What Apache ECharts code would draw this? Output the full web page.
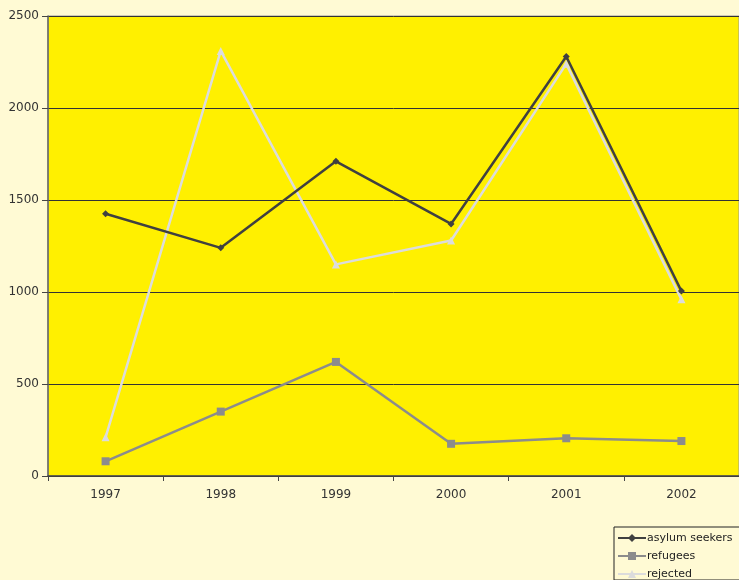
<!DOCTYPE html>
<html>
<head>
<meta charset="utf-8">
<script src="https://cdn.jsdelivr.net/npm/echarts@6/dist/echarts.min.js"></script>
<style>
html,body{margin:0;padding:0;background:#FFFAD4;}
#c{width:739px;height:580px;}
</style>
</head>
<body>
<div id="c"></div>
<script>
var categories = ['1997','1998','1999','2000','2001','2002'];
var asylumSeekers = [1425, 1240, 1710, 1370, 2280, 1005];
var refugees = [80, 350, 620, 175, 205, 190];
var rejected = [210, 2310, 1150, 1280, 2240, 960];
var yTicks = [0, 500, 1000, 1500, 2000, 2500];

var chart = echarts.init(document.getElementById('c'));
var font = 'DejaVu Sans, Verdana, sans-serif';
chart.setOption({
  backgroundColor: '#FFFAD4',
  animation: false,
  textStyle: {fontFamily: font},
  grid: {left: 48, top: 16, width: 698, height: 460, show: true,
         backgroundColor: '#FFF000', borderColor: '#9a9a9a', borderWidth: 1},
  legend: {
    orient: 'vertical', left: 614, top: 527,
    backgroundColor: '#FFFAD4', borderColor: '#222', borderWidth: 1,
    padding: [5, 20, 0, 3], itemGap: 6, itemWidth: 28, itemHeight: 10,
    textStyle: {fontSize: 11, lineHeight: 12, color: '#222', fontFamily: font, padding: [0,0,0,-4]},
    data: ['asylum seekers', 'refugees', 'rejected']
  },
  xAxis: {
    type: 'category', data: categories, boundaryGap: true,
    axisLine: {lineStyle: {color: '#444', width: 1.5}},
    axisTick: {show: true, length: 5, lineStyle: {color: '#444'}},
    axisLabel: {fontSize: 12, color: '#333', margin: 13, fontFamily: font},
    splitLine: {show: false}
  },
  yAxis: {
    type: 'value', min: yTicks[0], max: yTicks[yTicks.length-1], interval: 500,
    axisLine: {show: true, lineStyle: {color: '#666', width: 1.5}},
    axisTick: {show: true, length: 6, lineStyle: {color: '#444'}},
    axisLabel: {fontSize: 12, color: '#333', margin: 9, fontFamily: font,
                formatter: function (v) { return String(v); }},
    splitLine: {show: true, lineStyle: {color: '#333', width: 1}}
  },
  series: [
    {name: 'asylum seekers', type: 'line', data: asylumSeekers, z: 4,
     symbol: 'diamond', symbolSize: 7,
     lineStyle: {color: '#404040', width: 2.5}, itemStyle: {color: '#404040'}},
    {name: 'refugees', type: 'line', data: refugees, z: 3,
     symbol: 'rect', symbolSize: 8,
     lineStyle: {color: '#8c8c8c', width: 2.5}, itemStyle: {color: '#8c8c8c'}},
    {name: 'rejected', type: 'line', data: rejected, z: 2,
     symbol: 'triangle', symbolSize: 8,
     lineStyle: {color: '#dcdcdc', width: 2.5}, itemStyle: {color: '#dcdcdc'}}
  ]
});
</script>
</body>
</html>
